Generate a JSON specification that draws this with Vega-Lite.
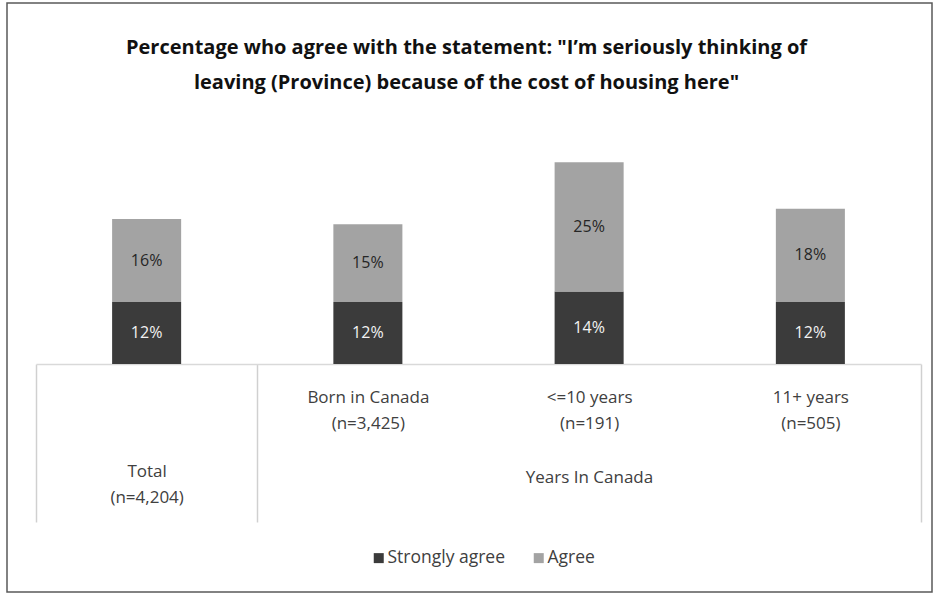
{
  "$schema": "https://vega.github.io/schema/vega-lite/v6.json",
  "width": 925,
  "height": 589,
  "autosize": {"type": "none"},
  "padding": {"left": 7, "top": 3, "right": 3, "bottom": 4},
  "background": "white",
  "title": {
    "text": ["Percentage who agree with the statement: \"I’m seriously thinking of", "leaving (Province) because of the cost of housing here\""],
    "anchor": "middle",
    "frame": "group",
    "orient": "top",
    "offset": -100,
    "baseline": "middle",
    "fontSize": 20,
    "fontWeight": "bold",
    "font": "Open Sans",
    "color": "#111111",
    "lineHeight": 35,
    "dx": -3
  },
  "data": {
    "values": [
      {"cat": "Total|(n=4,204)", "series": "Strongly agree", "rank": 1, "value": 0.12},
      {"cat": "Total|(n=4,204)", "series": "Agree", "rank": 2, "value": 0.16},
      {"cat": "Born in Canada|(n=3,425)", "series": "Strongly agree", "rank": 1, "value": 0.12},
      {"cat": "Born in Canada|(n=3,425)", "series": "Agree", "rank": 2, "value": 0.15},
      {"cat": "<=10 years|(n=191)", "series": "Strongly agree", "rank": 1, "value": 0.14},
      {"cat": "<=10 years|(n=191)", "series": "Agree", "rank": 2, "value": 0.25},
      {"cat": "11+ years|(n=505)", "series": "Strongly agree", "rank": 1, "value": 0.12},
      {"cat": "11+ years|(n=505)", "series": "Agree", "rank": 2, "value": 0.18}
    ]
  },
  "encoding": {
    "x": {
      "field": "cat",
      "type": "nominal",
      "sort": null,
      "scale": {"range": [29, 914], "paddingInner": 0, "paddingOuter": 0},
      "axis": {
        "orient": "bottom",
        "offset": -228,
        "title": "Years In Canada",
        "titleX": 582,
        "titleY": 113,
        "titleAlign": "center",
        "titleBaseline": "middle",
        "titleFont": "Open Sans",
        "titleFontSize": 17,
        "titleFontWeight": "normal",
        "titleColor": "#404040",
        "labelExpr": "split(datum.label, '|')",
        "labelAngle": 0,
        "labelFont": "Open Sans",
        "labelFontSize": 17,
        "labelColor": "#404040",
        "labelLineHeight": 26,
        "labelBaseline": "top",
        "labelPadding": {
          "condition": {"test": "substring(datum.value, 0, 5) === 'Total'", "value": -59},
          "value": -133
        },
        "labelLimit": 0,
        "domainColor": "#d9d9d9",
        "domainWidth": 1.5,
        "tickBand": "extent",
        "tickSize": 158,
        "tickWidth": 1.5,
        "tickColor": "#d0d0d0",
        "tickOpacity": {
          "condition": {"test": "datum.extra || datum.value === 'Total|(n=4,204)' || datum.value === '11+ years|(n=505)'", "value": 1},
          "value": 0
        }
      }
    },
    "y": {
      "field": "value",
      "type": "quantitative",
      "stack": "zero",
      "scale": {"domain": [0, 0.4], "range": [361, 154]},
      "axis": null
    },
    "order": {"field": "rank", "type": "quantitative"}
  },
  "layer": [
    {
      "mark": {"type": "bar", "width": {"band": 0.312}},
      "encoding": {
        "color": {
          "field": "series",
          "type": "nominal",
          "scale": {"domain": ["Strongly agree", "Agree"], "range": ["#3b3b3b", "#a3a3a3"]},
          "legend": {
            "orient": "none",
            "legendX": 363,
            "legendY": 546,
            "direction": "horizontal",
            "title": null,
            "symbolType": "square",
            "symbolSize": 100,
            "symbolStrokeWidth": 0,
            "labelFont": "Open Sans",
            "labelFontSize": 17.5,
            "labelColor": "#404040",
            "labelOffset": 0,
            "columnPadding": 24
          }
        }
      }
    },
    {
      "mark": {"type": "text", "font": "Open Sans", "fontSize": 16, "baseline": "middle"},
      "encoding": {
        "y": {"field": "value", "type": "quantitative", "stack": "zero", "bandPosition": 0.5},
        "detail": {"field": "series"},
        "text": {"field": "value", "type": "quantitative", "format": ".0%"},
        "color": {
          "condition": {"test": "datum.series === 'Strongly agree'", "value": "#f2f2f2"},
          "value": "#262626"
        }
      }
    }
  ],
  "config": {"view": {"stroke": "#595959", "strokeWidth": 1.5}}
}
